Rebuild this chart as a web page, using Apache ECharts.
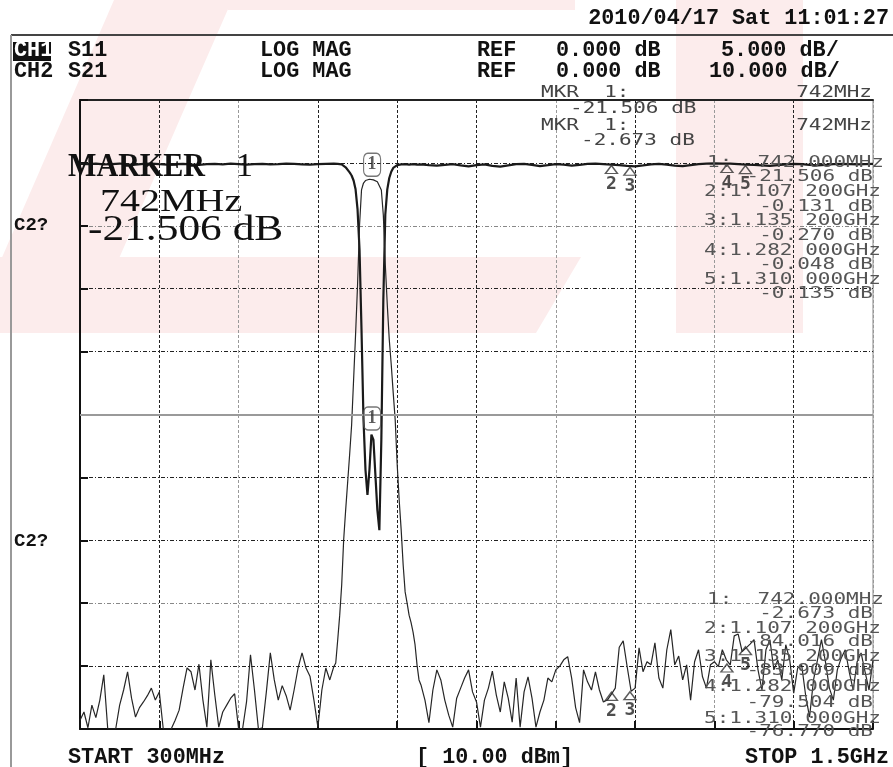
<!DOCTYPE html>
<html><head><meta charset="utf-8">
<script src="https://cdn.jsdelivr.net/npm/echarts@6/dist/echarts.min.js"></script>
<style>html,body{margin:0;padding:0;background:#fff}#c{width:893px;height:767px}</style>
</head><body><div id="c"></div>
<script>
// ---- sweep / axis settings ----
const START = 300, STOP = 1500, XDIV = 120;      // MHz
const S21_MIN = -90, S21_MAX = 10, S21_DIV = 10;  // dB (CH2)
const S11_MIN = -45, S11_MAX = 5, S11_DIV = 5;    // dB (CH1)

// ---- S21 (CH2) trace values, dB ----
const s21LowStart = 300, s21LowStep = 6;
const s21Low = [-88.6,-87.3,-89.8,-86.2,-88.2,-85.4,-81.4,-90,-90,-90,-86.2,-83.8,-80.9,-85.1,-88.1,-86.6,-85.7,-84.7,-83.5,-85.4,-84.1,-90,-90,-90,-88.6,-87.0,-83.5,-80.3,-80.9,-83.8,-79.7,-85.4,-89.7,-79.0,-84.6,-89.7,-87.3,-86.2,-85.1,-84.4,-90,-90,-85.7,-78.2,-83.8,-90,-89.8,-84.1,-77.9,-82.2,-85.4,-83.1,-84.7,-87.0,-83.8,-80.3,-77.9,-80.3,-81.6,-85.4,-89.7,-83.8,-80.3,-82.2,-80.1];
const passStart = 687, passStep = 3;
const s21Pass = [-79.5,-75.8,-71.9,-67.1,-59.9,-55.2,-50.8,-46.4,-41.7,-34.5,-27.3,-19.4,-9.9,-4.3,-3.2,-2.8,-2.7,-2.6,-2.67,-2.7,-2.8,-3.0,-3.3,-4.3,-8.3,-16.2,-22.6,-28.1,-32.1,-36.6,-40.9,-48.0,-53.6,-58.3,-63.9,-68.2,-70.0,-71.9,-73.1,-74.6,-76.6,-79.8,-82.2];
const s21HighStart = 816, s21HighStep = 6;
const s21High = [-83.0,-85.4,-89.0,-83.8,-80.6,-82.2,-85.4,-87.8,-89.7,-85.1,-83.5,-81.9,-80.6,-84.1,-85.7,-89.7,-85.4,-83.5,-80.8,-84.6,-87.3,-82.5,-85.1,-88.9,-81.9,-89.7,-84.1,-81.7,-85.1,-89.7,-87.3,-85.4,-81.9,-82.5,-80.6,-80.0,-79.0,-78.5,-81.9,-86.6,-89.0,-80.6,-82.5,-83.8,-80.9,-83.8,-85.7,-85.4,-84.5,-83.5,-77.0,-76.0,-80.1,-84.0,-83.5,-77.1,-80.9,-79.3,-79.8,-76.3,-81.9,-83.5,-77.4,-74.2,-79.8,-78.4,-82.2,-79.8,-85.4,-79.3,-77.4,-81.7,-83.5,-79.8,-79.3,-80.1,-77.4,-79.0,-79.8,-75.2,-74.9,-77.7,-77.1,-76.5,-75.8,-80.6,-83.8,-77.4,-75.8,-80.6,-79.0,-82.2,-76.6,-79.0,-84.3,-80.3,-79.8,-84.6,-88.1,-82.2,-79.0,-75.8,-79.3,-83.5,-85.4,-80.6,-78.7,-77.4,-80.9,-83.8,-79.3,-77.9,-80.9,-83.8,-79.0];

// ---- S11 (CH1) trace values, dB ----
const s11LowStart = 300, s11LowStep = 12;
const s11Low = [-0.08,-0.10,-0.06,-0.12,-0.09,-0.05,-0.11,-0.14,-0.08,-0.06,-0.10,-0.13,-0.09,-0.07,-0.12,-0.15,-0.10,-0.08,-0.11,-0.06,-0.09,-0.13,-0.10,-0.07,-0.12,-0.09,-0.05,-0.08,-0.11,-0.14,-0.10,-0.07,-0.06];
const s11Pass = [-0.05,-0.08,-0.1,-0.12,-0.2,-0.35,-0.5,-0.75,-1.0,-1.4,-2.1,-3.7,-6.9,-13.3,-20.4,-24.4,-26.4,-24.4,-21.6,-22.0,-24.8,-27.6,-29.2,-22.0,-10.9,-4.1,-2.1,-1.2,-0.7,-0.4,-0.25,-0.18,-0.15,-0.12,-0.1,-0.1,-0.12,-0.14,-0.12,-0.1,-0.12,-0.14,-0.13];
const s11HighStart = 816, s11HighStep = 12;
const s11High = [-0.12,-0.18,-0.22,-0.15,-0.10,-0.20,-0.28,-0.18,-0.12,-0.24,-0.30,-0.20,-0.10,-0.08,-0.16,-0.25,-0.18,-0.10,-0.14,-0.22,-0.15,-0.08,-0.06,-0.10,-0.13,-0.18,-0.24,-0.27,-0.20,-0.12,-0.08,-0.14,-0.22,-0.26,-0.18,-0.10,-0.06,-0.04,-0.05,-0.05,-0.09,-0.13,-0.16,-0.20,-0.24,-0.18,-0.12,-0.08,-0.10,-0.15,-0.20,-0.16,-0.10,-0.07,-0.09,-0.12,-0.10,-0.08];

// ---- markers ----
const mkNames = ['1','2','3','4','5'];
const mkFreq = [742, 1107.2, 1135.2, 1282, 1310];  // MHz
const mkS11 = [-21.506, -0.131, -0.270, -0.048, -0.135];
const mkS21 = [-2.673, -84.016, -83.909, -79.504, -76.770];

// ---- screen texts ----
const dateText = '2010/04/17 Sat 11:01:27';
const ch1Row = ['CH1','S11','LOG MAG','REF','0.000 dB','5.000 dB/'];
const ch2Row = ['CH2','S21','LOG MAG','REF','0.000 dB','10.000 dB/'];
const ch1List = ['1:  742.000MHz','-21.506 dB','2:1.107 200GHz','-0.131 dB','3:1.135 200GHz','-0.270 dB','4:1.282 000GHz','-0.048 dB','5:1.310 000GHz','-0.135 dB'];
const ch2List = ['1:  742.000MHz','-2.673 dB','2:1.107 200GHz','-84.016 dB','3:1.135 200GHz','-83.909 dB','4:1.282 000GHz','-79.504 dB','5:1.310 000GHz','-76.770 dB'];
const bottomTexts = ['START 300MHz','[ 10.00 dBm]','STOP 1.5GHz'];

function seg(start, step, vals){ return vals.map((v,i)=>[start + i*step - START, v]); }
const s21Data = seg(s21LowStart,s21LowStep,s21Low).concat(seg(passStart,passStep,s21Pass), seg(s21HighStart,s21HighStep,s21High));
const s11Data = seg(s11LowStart,s11LowStep,s11Low).concat(seg(passStart,passStep,s11Pass), seg(s11HighStart,s11HighStep,s11High));

const MONO_B = 'bold 21.8px "Liberation Mono", "DejaVu Sans Mono", monospace';
const THIN = '15px "DejaVu Sans Mono", monospace';
const SERIF = '"Liberation Serif", "DejaVu Serif", serif';

function T(text, x, y, font, o){
  o = o || {};
  const a = o.align || 'left';
  return { type:'text', x:x, y:y, scaleX:o.sx||1, z:100, silent:true,
    style:{ text:text, font:font, fill:o.fill||'#111', align:a, textAlign:a, verticalAlign:'middle', textVerticalAlign:'middle' } };
}

const g = [];
const pink = '#fcecec';
g.push({type:'polygon', z:-10, silent:true, shape:{points:[[114,0],[232,0],[117,263],[0,263],[0,262]]}, style:{fill:pink}});
g.push({type:'polygon', z:-10, silent:true, shape:{points:[[0,257],[581,257],[536,333],[0,333]]}, style:{fill:pink}});
g.push({type:'polygon', z:-10, silent:true, shape:{points:[[676,0],[803,0],[803,333],[676,333]]}, style:{fill:pink}});
g.push({type:'polygon', z:-10, silent:true, shape:{points:[[228,0],[575,0],[575,10],[228,10]]}, style:{fill:pink}});
// outer screen frame
g.push({type:'line', z:50, silent:true, shape:{x1:11,y1:35,x2:893,y2:35}, style:{stroke:'#444', lineWidth:2}});
g.push({type:'line', z:50, silent:true, shape:{x1:11,y1:35,x2:11,y2:767}, style:{stroke:'#999', lineWidth:2}});
// header
g.push(T(dateText, 889, 19, MONO_B, {align:'right'}));
g.push({type:'rect', z:99, silent:true, shape:{x:13,y:42,width:38,height:19}, style:{fill:'#111'}});
const colX = [14, 68, 260, 477, 556, null];
[[ch1Row,51,721],[ch2Row,72,709]].forEach(function(r, ri){
  const row = r[0], y = r[1];
  for (let i=0;i<6;i++){
    const x = i===5 ? r[2] : colX[i];
    g.push(T(row[i], x, y, MONO_B, {fill: (ri===0 && i===0) ? '#fff' : '#111'}));
  }
});
// top marker readouts
const SX = 1.4;
g.push(T('MKR  1:', 541, 93, THIN, {sx:SX, fill:'#444'}));
g.push(T('742MHz', 872, 93, THIN, {sx:SX, fill:'#444', align:'right'}));
g.push(T('-21.506 dB', 570, 109, THIN, {sx:SX, fill:'#444'}));
g.push(T('MKR  1:', 541, 126, THIN, {sx:SX, fill:'#444'}));
g.push(T('742MHz', 872, 126, THIN, {sx:SX, fill:'#444', align:'right'}));
g.push(T('-2.673 dB', 581, 141, THIN, {sx:SX, fill:'#444'}));
// marker lists
const ch1Y = [163,177,192,207,221,236,251,265,280,294];
const ch2Y = [600,614,629,642,657,671,687,703,719,732];
function pushList(list, ys){
  list.forEach(function(t,i){
    if (i%2===0) g.push(T(t, i===0?707:704, ys[i], THIN, {sx:SX, fill:'#555'}));
    else g.push(T(t, 873, ys[i], THIN, {sx:SX, fill:'#555', align:'right'}));
  });
}
pushList(ch1List, ch1Y);
pushList(ch2List, ch2Y);
// big marker readout
g.push(T('MARKER', 68, 167, 'bold 34px ' + SERIF, {sx:0.885}));
g.push(T('1', 236, 167, '34px ' + SERIF));
g.push(T('742MHz', 100, 203, '32px ' + SERIF, {sx:1.25}));
g.push(T('-21.506 dB', 88, 231, '35px ' + SERIF, {sx:1.24}));
g.push(T('C2?', 14, 225, 'bold 19px "Liberation Mono", monospace'));
g.push(T('C2?', 14, 541, 'bold 19px "Liberation Mono", monospace'));
// bottom
g.push(T(bottomTexts[0], 68, 758, MONO_B));
g.push(T(bottomTexts[1], 416, 758, MONO_B));
g.push(T(bottomTexts[2], 889, 758, MONO_B, {align:'right'}));

const vColors = ['#222','#222','#999','#222','#222','#222','#999','#222','#999','#222','#999'];
const hColors = ['#222','#222','#888','#222','#222','#aaa','#222','#222','#888','#222','#222'];

function boxSeries(vals, yIdx){
  return { type:'scatter', yAxisIndex:yIdx, z:5, symbol:'roundRect', symbolSize:[17,23], symbolOffset:[0,-15],
    itemStyle:{color:'rgba(0,0,0,0)', borderColor:'#555', borderWidth:1.3},
    label:{show:true, position:'inside', formatter:'1', fontFamily:'Liberation Serif', fontWeight:'bold', fontSize:18, color:'#333'},
    data:[{value:[mkFreq[0]-START, vals[0]], name:mkNames[0]}] };
}
function triSeries(vals, yIdx){
  const d = [];
  for (let i=1;i<mkFreq.length;i++) d.push({value:[mkFreq[i]-START, vals[i]], name:mkNames[i]});
  return { type:'scatter', yAxisIndex:yIdx, z:5, symbol:'triangle', symbolSize:[12,8], symbolOffset:[-2,5],
    itemStyle:{color:'rgba(0,0,0,0)', borderColor:'#333', borderWidth:1.4},
    label:{show:true, position:'bottom', distance:1, formatter:function(p){return p.name;}, fontFamily:'DejaVu Sans Mono', fontWeight:'bold', fontSize:18, color:'#222'},
    data:d };
}

const option = {
  animation:false,
  backgroundColor:'rgba(0,0,0,0)',
  grid:{left:80, top:100, width:793, height:629, show:true, borderColor:'#888', borderWidth:1},
  xAxis:[
    {type:'value', min:0, max:STOP-START, interval:XDIV, position:'bottom',
     axisLabel:{show:false}, axisLine:{show:true, onZero:false, lineStyle:{color:'#111', width:2}},
     axisTick:{show:true, inside:true, length:8, lineStyle:{color:'#111', width:2}},
     splitLine:{show:true, showMinLine:true, showMaxLine:true, lineStyle:{color:vColors, width:1, type:[3,2]}}},
    {type:'value', min:0, max:STOP-START, interval:XDIV, position:'top',
     axisLabel:{show:false}, axisLine:{show:true, onZero:false, lineStyle:{color:'#222', width:2}},
     axisTick:{show:false}, splitLine:{show:false}}
  ],
  yAxis:[
    {type:'value', min:S21_MIN, max:S21_MAX, interval:S21_DIV, position:'left',
     axisLabel:{show:false}, axisLine:{show:true, onZero:false, lineStyle:{color:'#111', width:2}},
     axisTick:{show:true, inside:true, length:8, lineStyle:{color:'#111', width:2}},
     splitLine:{show:true, showMinLine:true, showMaxLine:true, lineStyle:{color:hColors, width:1, type:[4,2,1,2]}}},
    {type:'value', min:S11_MIN, max:S11_MAX, interval:S11_DIV, position:'right',
     axisLabel:{show:false}, axisLine:{show:false}, axisTick:{show:false}, splitLine:{show:false}}
  ],
  series:[
    {name:'S11', type:'line', yAxisIndex:1, data:s11Data, showSymbol:false, symbol:'none', z:3,
     lineStyle:{color:'#1a1a1a', width:2.2}, clip:true},
    {name:'S21', type:'line', yAxisIndex:0, data:s21Data, showSymbol:false, symbol:'none', z:3,
     lineStyle:{color:'#262626', width:1.2}, clip:true,
     markLine:{silent:true, symbol:'none', label:{show:false}, lineStyle:{color:'#9a9a9a', width:2, type:'solid'}, data:[{yAxis:-40}]}},
    boxSeries(mkS21, 0),
    boxSeries(mkS11, 1),
    triSeries(mkS11, 1),
    triSeries(mkS21, 0)
  ],
  graphic:{elements:g}
};
const chart = echarts.init(document.getElementById('c'));
chart.setOption(option);
</script>
</body></html>
